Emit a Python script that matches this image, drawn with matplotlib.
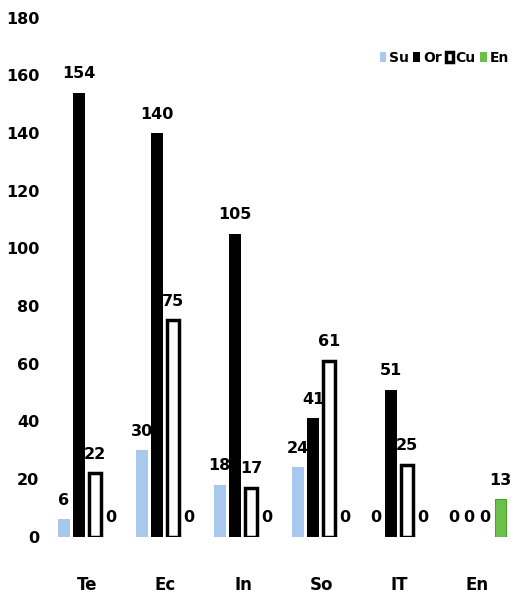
import matplotlib.pyplot as plt
import numpy as np

cats = ['Te', 'Ec', 'In', 'So', 'IT', 'En']
su = [6, 30, 18, 24, 0, 0]
orr = [154, 140, 105, 41, 51, 0]
cu = [22, 75, 17, 61, 25, 0]
en = [0, 0, 0, 0, 0, 13]

fig = plt.figure(figsize=(5.2, 5.93), dpi=100)
ax = fig.add_axes([0.085, 0.095, 0.9, 0.875])

x = np.arange(len(cats))
w = 0.15
step = 0.2
series = [('Su', su, '#a9c8ee', '#a9c8ee', 0),
          ('Or', orr, 'black', 'black', 0),
          ('Cu', cu, 'white', 'black', 2.5),
          ('En', en, '#6cc04a', '#4aa030', 0.8)]
for i, (name, vals, fc, ec, lw) in enumerate(series):
    pos = x + (i - 1.5) * step
    lws = [lw if v > 0 else 0 for v in vals]
    ax.bar(pos, vals, w, color=fc, edgecolor=ec, linewidth=lws, label=name)
    for p, v in zip(pos, vals):
        ax.text(p, v + 4, str(v), ha='center', va='bottom', fontsize=11.5, fontweight='bold')

ax.set_ylim(0, 180)
ax.set_yticks(range(0, 181, 20))
ax.set_xlim(-0.55, 5.45)
ax.set_xticks(x)
ax.set_xticklabels(cats, fontsize=12, fontweight='bold')
ax.tick_params(axis='x', length=0, pad=28)
ax.tick_params(axis='y', length=0, labelsize=11.5)
for t in ax.get_yticklabels():
    t.set_fontweight('bold')
for s in ax.spines.values():
    s.set_visible(False)

leg = ax.legend(loc='upper right', ncol=4, frameon=False, handlelength=0.5,
                handletextpad=0.2, columnspacing=0.3, bbox_to_anchor=(1.02, 0.96),
                prop={'weight': 'bold', 'size': 10})

fig.savefig('out.png')
